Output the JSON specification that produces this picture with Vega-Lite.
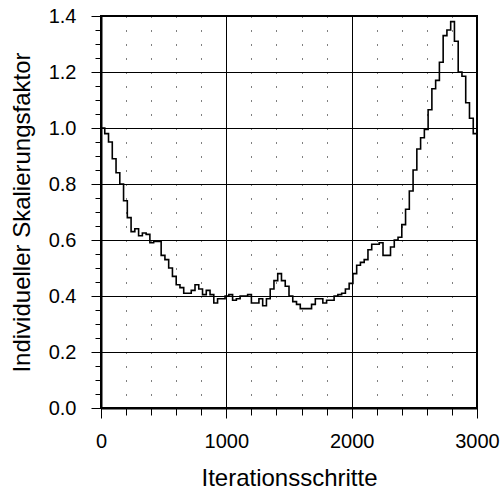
{
  "$schema": "https://vega.github.io/schema/vega-lite/v6.json",
  "width": 376,
  "height": 392,
  "autosize": "none",
  "padding": {"left": 101, "top": 16, "right": 24, "bottom": 85},
  "background": "white",
  "config": {
    "view": {"stroke": "black", "strokeWidth": 2},
    "font": "Liberation Sans",
    "axis": {
      "labelFont": "Liberation Sans",
      "titleFont": "Liberation Sans",
      "labelColor": "black",
      "titleColor": "black",
      "labelFontSize": 20,
      "titleFontSize": 24,
      "titleFontWeight": "normal",
      "domainColor": "black",
      "domainWidth": 2,
      "tickColor": "black",
      "tickWidth": 1,
      "gridColor": "black",
      "gridWidth": 1,
      "labelOverlap": false,
      "labelBound": false,
      "labelFlush": false
    }
  },
  "data": {
    "values": [
      {"iter": 0, "faktor": 1.0},
      {"iter": 30, "faktor": 0.98},
      {"iter": 60, "faktor": 0.95},
      {"iter": 90, "faktor": 0.89},
      {"iter": 120, "faktor": 0.84},
      {"iter": 150, "faktor": 0.8},
      {"iter": 180, "faktor": 0.74},
      {"iter": 210, "faktor": 0.68},
      {"iter": 240, "faktor": 0.63},
      {"iter": 270, "faktor": 0.64},
      {"iter": 300, "faktor": 0.615},
      {"iter": 330, "faktor": 0.625},
      {"iter": 360, "faktor": 0.62},
      {"iter": 390, "faktor": 0.59},
      {"iter": 420, "faktor": 0.595},
      {"iter": 450, "faktor": 0.595},
      {"iter": 480, "faktor": 0.545},
      {"iter": 510, "faktor": 0.53},
      {"iter": 540, "faktor": 0.5},
      {"iter": 570, "faktor": 0.47},
      {"iter": 600, "faktor": 0.44},
      {"iter": 630, "faktor": 0.43},
      {"iter": 660, "faktor": 0.41},
      {"iter": 690, "faktor": 0.41},
      {"iter": 720, "faktor": 0.42},
      {"iter": 750, "faktor": 0.44},
      {"iter": 780, "faktor": 0.425},
      {"iter": 810, "faktor": 0.405},
      {"iter": 840, "faktor": 0.42},
      {"iter": 870, "faktor": 0.405},
      {"iter": 900, "faktor": 0.375},
      {"iter": 930, "faktor": 0.39},
      {"iter": 960, "faktor": 0.39},
      {"iter": 990, "faktor": 0.4},
      {"iter": 1020, "faktor": 0.405},
      {"iter": 1050, "faktor": 0.385},
      {"iter": 1080, "faktor": 0.39},
      {"iter": 1110, "faktor": 0.4},
      {"iter": 1140, "faktor": 0.4},
      {"iter": 1170, "faktor": 0.405},
      {"iter": 1200, "faktor": 0.375},
      {"iter": 1230, "faktor": 0.375},
      {"iter": 1260, "faktor": 0.39},
      {"iter": 1290, "faktor": 0.365},
      {"iter": 1320, "faktor": 0.39},
      {"iter": 1350, "faktor": 0.425},
      {"iter": 1380, "faktor": 0.455},
      {"iter": 1410, "faktor": 0.48},
      {"iter": 1440, "faktor": 0.455},
      {"iter": 1470, "faktor": 0.435},
      {"iter": 1500, "faktor": 0.4},
      {"iter": 1530, "faktor": 0.38},
      {"iter": 1560, "faktor": 0.37},
      {"iter": 1590, "faktor": 0.355},
      {"iter": 1620, "faktor": 0.355},
      {"iter": 1650, "faktor": 0.355},
      {"iter": 1680, "faktor": 0.37},
      {"iter": 1710, "faktor": 0.39},
      {"iter": 1740, "faktor": 0.39},
      {"iter": 1770, "faktor": 0.375},
      {"iter": 1800, "faktor": 0.385},
      {"iter": 1830, "faktor": 0.385},
      {"iter": 1860, "faktor": 0.4},
      {"iter": 1890, "faktor": 0.405},
      {"iter": 1920, "faktor": 0.41},
      {"iter": 1950, "faktor": 0.425},
      {"iter": 1980, "faktor": 0.445},
      {"iter": 2010, "faktor": 0.48},
      {"iter": 2040, "faktor": 0.51},
      {"iter": 2070, "faktor": 0.52},
      {"iter": 2100, "faktor": 0.53},
      {"iter": 2130, "faktor": 0.565},
      {"iter": 2160, "faktor": 0.585},
      {"iter": 2190, "faktor": 0.585},
      {"iter": 2220, "faktor": 0.59},
      {"iter": 2250, "faktor": 0.545},
      {"iter": 2280, "faktor": 0.545},
      {"iter": 2310, "faktor": 0.575},
      {"iter": 2340, "faktor": 0.6},
      {"iter": 2370, "faktor": 0.61},
      {"iter": 2400, "faktor": 0.655},
      {"iter": 2430, "faktor": 0.71},
      {"iter": 2460, "faktor": 0.775},
      {"iter": 2490, "faktor": 0.85},
      {"iter": 2520, "faktor": 0.925},
      {"iter": 2550, "faktor": 0.965},
      {"iter": 2580, "faktor": 0.995},
      {"iter": 2610, "faktor": 1.065},
      {"iter": 2640, "faktor": 1.14},
      {"iter": 2670, "faktor": 1.17},
      {"iter": 2700, "faktor": 1.235},
      {"iter": 2730, "faktor": 1.33},
      {"iter": 2760, "faktor": 1.35},
      {"iter": 2790, "faktor": 1.38},
      {"iter": 2820, "faktor": 1.31},
      {"iter": 2850, "faktor": 1.2},
      {"iter": 2880, "faktor": 1.185},
      {"iter": 2910, "faktor": 1.09},
      {"iter": 2940, "faktor": 1.035},
      {"iter": 2970, "faktor": 0.98},
      {"iter": 3000, "faktor": 0.98}
    ]
  },
  "mark": {"type": "line", "interpolate": "step-after", "color": "black", "strokeWidth": 1.6, "clip": true},
  "encoding": {
    "x": {
      "field": "iter",
      "type": "quantitative",
      "scale": {"domain": [0, 3000], "nice": false, "zero": false},
      "axis": {
        "title": "Iterationsschritte",
        "values": [0, 200, 400, 600, 800, 1000, 1200, 1400, 1600, 1800, 2000, 2200, 2400, 2600, 2800, 3000],
        "labelExpr": "datum.value % 1000 === 0 ? format(datum.value, 'd') : ''",
        "tickSize": {"condition": {"test": "datum.value % 1000 === 0", "value": 10}, "value": 7},
        "labelPadding": 13,
        "titlePadding": 15,
        "gridDash": {"condition": {"test": "datum.value % 1000 === 0", "value": []}, "value": [1, 13]}
      }
    },
    "y": {
      "field": "faktor",
      "type": "quantitative",
      "scale": {"domain": [0, 1.4], "nice": false, "zero": false},
      "axis": {
        "title": "Individueller Skalierungsfaktor",
        "values": [0, 0.05, 0.1, 0.15, 0.2, 0.25, 0.3, 0.35, 0.4, 0.45, 0.5, 0.55, 0.6, 0.65, 0.7, 0.75, 0.8, 0.85, 0.9, 0.95, 1.0, 1.05, 1.1, 1.15, 1.2, 1.25, 1.3, 1.35, 1.4],
        "labelExpr": "abs(datum.value * 5 - round(datum.value * 5)) < 0.000001 ? format(datum.value, '.1f') : ''",
        "tickSize": {"condition": {"test": "abs(datum.value * 5 - round(datum.value * 5)) < 0.000001", "value": 10}, "value": 6},
        "labelPadding": 15,
        "titlePadding": 14,
        "gridOpacity": {"condition": {"test": "abs(datum.value * 5 - round(datum.value * 5)) < 0.000001", "value": 1}, "value": 0}
      }
    }
  }
}
